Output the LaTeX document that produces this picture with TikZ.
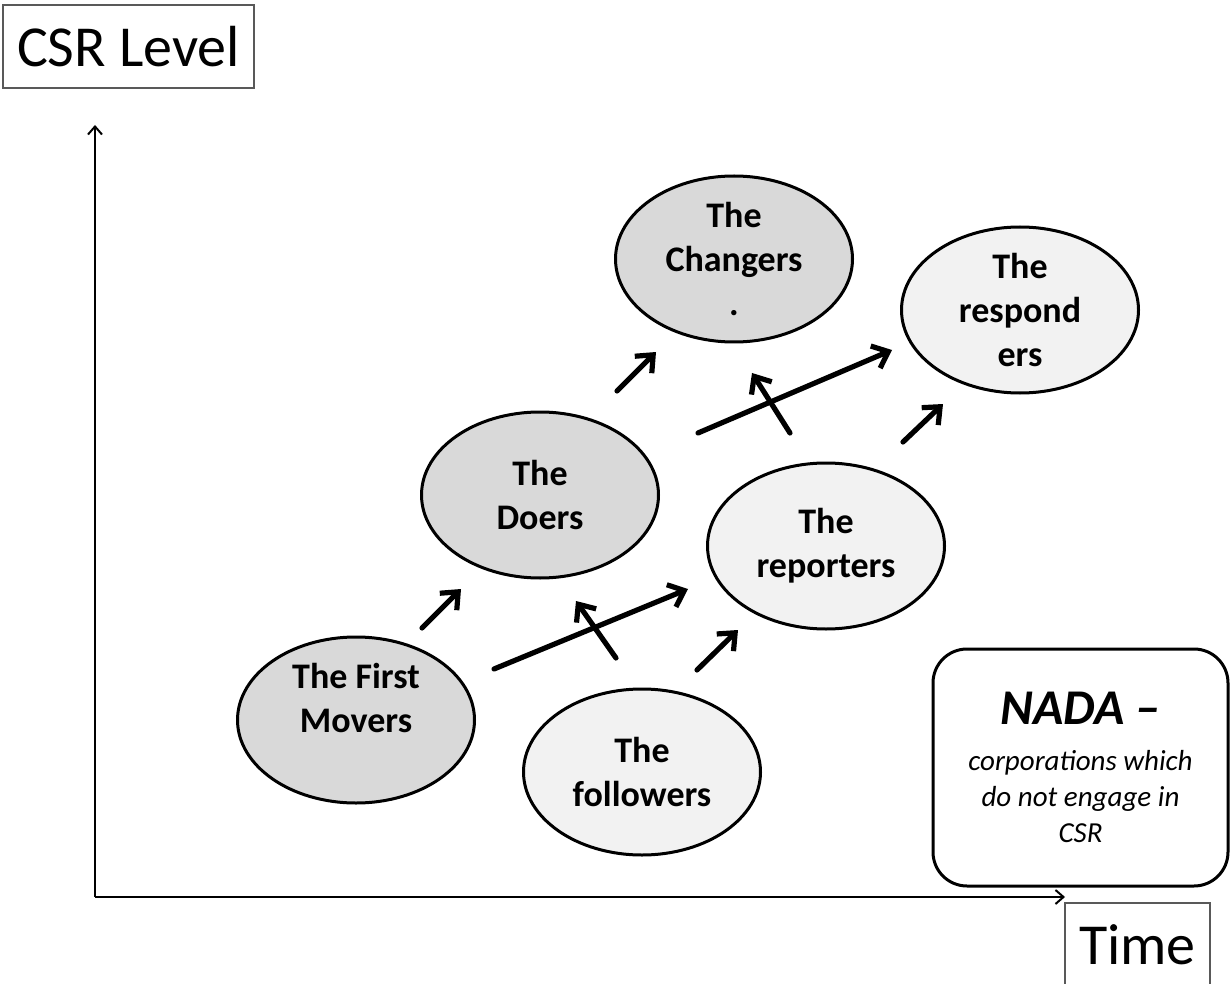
\documentclass[tikz,border=0pt]{standalone}
\usepackage{fontspec}
\setmainfont{Carlito}
\usetikzlibrary{shapes.geometric,arrows.meta}
\definecolor{darkfill}{HTML}{D9D9D9}
\definecolor{lightfill}{HTML}{F2F2F2}
\definecolor{boxline}{HTML}{595959}
\begin{document}
\begin{tikzpicture}[x=0.5pt,y=-0.5pt,
  ell/.style={ellipse,draw=black,line width=1.5pt,minimum width=118.5pt,minimum height=83pt,inner sep=0pt,align=center,font=\fontsize{18}{22}\selectfont\bfseries},
  darkell/.style={ell,fill=darkfill},
  lightell/.style={ell,fill=lightfill},
  arr/.style={line width=2.6pt,line cap=round,-{Straight Barb[length=7pt,width=12pt]}},
  axisline/.style={line width=1pt,-{Straight Barb[length=4pt,width=7pt]}},
  labelbox/.style={draw=boxline,line width=1pt,inner sep=0pt,font=\fontsize{29}{34}\selectfont},
  nadabox/.style={draw=black,line width=1.5pt,rounded corners=17pt,minimum width=147.5pt,minimum height=118.5pt,align=center,inner sep=0pt,font=\fontsize{14.5}{18}\selectfont\itshape}]
\useasboundingbox (0,0) rectangle (1232,984);

% axes
\coordinate (origin) at (95,897);
\coordinate (ytip) at (95,125);
\coordinate (xtip) at (1065,897);
\draw[axisline] (origin) -- (ytip);
\draw[axisline] (origin) -- (xtip);

% axis labels
\node[labelbox,minimum width=125.5pt,minimum height=41.5pt] (csr) at (128.5,46.5) {CSR Level};
\node[labelbox,minimum width=72.5pt,minimum height=41.5pt] (time) at (1137.5,944.5) {Time};

% ellipses
\node[darkell] (movers) at (356,720) {The First\\Movers\\~};
\node[darkell] (doers) at (540,495) {The\\Doers};
\node[darkell] (changers) at (734,259) {The\\Changers\\.};
\node[lightell] (followers) at (642,772) {The\\followers};
\node[lightell] (reporters) at (826,546) {The\\reporters};
\node[lightell] (responders) at (1020,310) {The\\respond\\ers};

% NADA box
\node[nadabox] (nada) at (1080.5,767.5)
  {{\fontsize{25}{28}\selectfont\bfseries NADA –}\\[5pt]
   corporations which\\
   do not engage in\\
   CSR};

% arrow end points
\coordinate (a1s) at (422,628); \coordinate (a1e) at (461,589);
\coordinate (a2s) at (494,669); \coordinate (a2e) at (688,589);
\coordinate (a3s) at (616,658); \coordinate (a3e) at (576,601);
\coordinate (a4s) at (697,670); \coordinate (a4e) at (738,630);
\coordinate (a5s) at (617,391); \coordinate (a5e) at (656,352);
\coordinate (a6s) at (698,433); \coordinate (a6e) at (892,350);
\coordinate (a7s) at (790,433); \coordinate (a7e) at (752,373);
\coordinate (a8s) at (903,442); \coordinate (a8e) at (943,404);

\draw[arr] (a1s) -- (a1e);
\draw[arr] (a2s) -- (a2e);
\draw[arr] (a3s) -- (a3e);
\draw[arr] (a4s) -- (a4e);
\draw[arr] (a5s) -- (a5e);
\draw[arr] (a6s) -- (a6e);
\draw[arr] (a7s) -- (a7e);
\draw[arr] (a8s) -- (a8e);
\end{tikzpicture}
\end{document}
